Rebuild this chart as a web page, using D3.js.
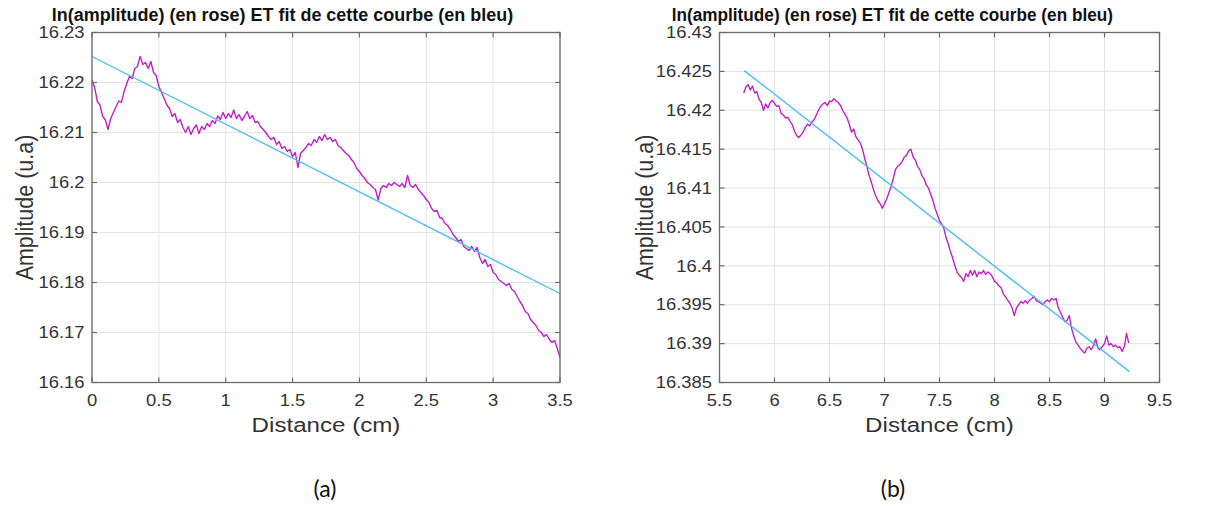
<!DOCTYPE html>
<html><head><meta charset="utf-8">
<script src="https://cdn.jsdelivr.net/npm/d3@7"></script>
<style>
html,body{margin:0;padding:0;background:#fff;}
svg{display:block;}
</style></head>
<body>
<svg id="chart" width="1205" height="506"></svg>
<script>
// ---------------- DATA ----------------
const titleText = "ln(amplitude) (en rose) ET fit de cette courbe (en bleu)";
const xLabel = "Distance (cm)";
const yLabel = "Amplitude (u.a)";
const captions = ["(a)", "(b)"];

// Panel (a)
const xTicksA = [0, 0.5, 1, 1.5, 2, 2.5, 3, 3.5];
const xTickLabelsA = ["0", "0.5", "1", "1.5", "2", "2.5", "3", "3.5"];
const yTicksA = [16.16, 16.17, 16.18, 16.19, 16.2, 16.21, 16.22, 16.23];
const yTickLabelsA = ["16.16", "16.17", "16.18", "16.19", "16.2", "16.21", "16.22", "16.23"];
const xDomainA = [0, 3.5];
const yDomainA = [16.16, 16.23];
const distStartA = 0, distStepA = 0.02;
const lnAmpA = [
16.2205,16.2190,16.2162,16.2155,16.2132,16.2125,16.2106,16.2128,16.2140,16.2152,
16.2163,16.2160,16.2182,16.2198,16.2212,16.2208,16.2228,16.2232,16.2252,16.2236,
16.2240,16.2228,16.2242,16.2220,16.2214,16.2192,16.2180,16.2168,16.2155,16.2148,
16.2132,16.2138,16.2120,16.2126,16.2110,16.2100,16.2112,16.2096,16.2108,16.2115,
16.2098,16.2112,16.2106,16.2118,16.2112,16.2124,16.2118,16.2133,16.2126,16.2140,
16.2128,16.2138,16.2130,16.2145,16.2128,16.2136,16.2124,16.2132,16.2142,16.2128,
16.2134,16.2120,16.2122,16.2112,16.2106,16.2100,16.2092,16.2086,16.2090,16.2076,
16.2082,16.2068,16.2072,16.2062,16.2066,16.2052,16.2060,16.2030,16.2058,16.2064,
16.2070,16.2078,16.2074,16.2086,16.2080,16.2092,16.2084,16.2096,16.2086,16.2090,
16.2082,16.2086,16.2074,16.2070,16.2064,16.2058,16.2054,16.2046,16.2040,16.2028,
16.2022,16.2014,16.2008,16.2000,16.1996,16.1990,16.1986,16.1965,16.1988,16.1994,
16.1990,16.1998,16.1994,16.2000,16.1996,16.1992,16.1998,16.1990,16.2014,16.1994,
16.1990,16.1996,16.1986,16.1980,16.1974,16.1966,16.1960,16.1948,16.1942,16.1944,
16.1930,16.1928,16.1918,16.1914,16.1906,16.1896,16.1890,16.1882,16.1886,16.1872,
16.1868,16.1864,16.1872,16.1862,16.1870,16.1850,16.1838,16.1846,16.1832,16.1836,
16.1820,16.1816,16.1806,16.1802,16.1798,16.1794,16.1798,16.1786,16.1782,16.1772,
16.1762,16.1754,16.1742,16.1738,16.1726,16.1720,16.1714,16.1704,16.1700,16.1692,
16.1696,16.1686,16.1680,16.1684,16.1668,16.1650
];
const fitXA = [0, 3.5];
const fitYA = [16.2252, 16.1778];

// Panel (b)
const xTicksB = [5.5, 6, 6.5, 7, 7.5, 8, 8.5, 9, 9.5];
const xTickLabelsB = ["5.5", "6", "6.5", "7", "7.5", "8", "8.5", "9", "9.5"];
const yTicksB = [16.385, 16.39, 16.395, 16.4, 16.405, 16.41, 16.415, 16.42, 16.425, 16.43];
const yTickLabelsB = ["16.385", "16.39", "16.395", "16.4", "16.405", "16.41", "16.415", "16.42", "16.425", "16.43"];
const xDomainB = [5.5, 9.5];
const yDomainB = [16.385, 16.43];
const distStartB = 5.72, distStepB = 0.02;
const lnAmpB = [
16.4222,16.4230,16.4233,16.4226,16.4231,16.4222,16.4224,16.4214,16.4210,16.4200,
16.4208,16.4203,16.4210,16.4213,16.4209,16.4205,16.4206,16.4196,16.4194,16.4190,
16.4191,16.4186,16.4182,16.4174,16.4168,16.4165,16.4168,16.4172,16.4178,16.4182,
16.4180,16.4185,16.4188,16.4194,16.4200,16.4205,16.4208,16.4210,16.4206,16.4212,
16.4211,16.4215,16.4212,16.4210,16.4206,16.4200,16.4195,16.4190,16.4182,16.4172,
16.4176,16.4166,16.4162,16.4158,16.4150,16.4138,16.4128,16.4116,16.4108,16.4098,
16.4090,16.4084,16.4080,16.4074,16.4080,16.4086,16.4094,16.4102,16.4112,16.4124,
16.4128,16.4130,16.4134,16.4140,16.4142,16.4148,16.4150,16.4140,16.4136,16.4128,
16.4124,16.4116,16.4112,16.4104,16.4100,16.4092,16.4084,16.4074,16.4066,16.4058,
16.4054,16.4048,16.4036,16.4028,16.4018,16.4010,16.4000,16.3992,16.3988,16.3985,
16.3980,16.3990,16.3986,16.3994,16.3988,16.3994,16.3986,16.3992,16.3990,16.3994,
16.3989,16.3992,16.3990,16.3986,16.3980,16.3978,16.3974,16.3972,16.3964,16.3960,
16.3956,16.3952,16.3946,16.3936,16.3946,16.3950,16.3954,16.3952,16.3955,16.3952,
16.3956,16.3958,16.3961,16.3955,16.3954,16.3952,16.3950,16.3954,16.3956,16.3954,
16.3958,16.3956,16.3958,16.3946,16.3940,16.3934,16.3928,16.3930,16.3936,16.3920,
16.3910,16.3902,16.3898,16.3894,16.3890,16.3888,16.3894,16.3896,16.3892,16.3898,
16.3906,16.3894,16.3892,16.3896,16.3900,16.3910,16.3898,16.3900,16.3896,16.3898,
16.3895,16.3896,16.3890,16.3896,16.3913,16.3901
];
const fitXB = [5.725, 9.227];
const fitYB = [16.4251, 16.3864];

// ---------------- DRAWING ----------------
const svg = d3.select("#chart");
const SX = 1.15; // horizontal stretch of the original raster text
const FONT = "'Liberation Sans', Arial, sans-serif";

function stretchedText(g, x, y, txt, size, anchor, opts = {}) {
  const t = g.append("text")
    .attr("transform", `translate(${x},${y}) scale(${opts.sx || SX},1)`)
    .attr("text-anchor", anchor)
    .attr("font-family", FONT)
    .attr("font-size", size)
    .attr("fill", opts.fill || "#262626")
    .text(txt);
  if (opts.weight) t.attr("font-weight", opts.weight);
  if (opts.dy) t.attr("dy", opts.dy);
  return t;
}

function panel(cfg) {
  const g = svg.append("g");
  const x = d3.scaleLinear().domain(cfg.xDomain).range([cfg.left, cfg.right]);
  const y = d3.scaleLinear().domain(cfg.yDomain).range([cfg.bottom, cfg.top]);

  // grid
  g.append("g").selectAll("line.gx").data(cfg.xTicks).join("line")
    .attr("x1", d => x(d)).attr("x2", d => x(d))
    .attr("y1", cfg.top).attr("y2", cfg.bottom)
    .attr("stroke", "#e3e3e3").attr("stroke-width", 1);
  g.append("g").selectAll("line.gy").data(cfg.yTicks).join("line")
    .attr("x1", cfg.left).attr("x2", cfg.right)
    .attr("y1", d => y(d)).attr("y2", d => y(d))
    .attr("stroke", "#e3e3e3").attr("stroke-width", 1);

  // data line
  const pts = cfg.values.map((v, i) => [cfg.start + i * cfg.step, v]);
  const clipId = "clip" + cfg.id;
  g.append("clipPath").attr("id", clipId).append("rect")
    .attr("x", cfg.left).attr("y", cfg.top)
    .attr("width", cfg.right - cfg.left).attr("height", cfg.bottom - cfg.top);
  const line = d3.line().x(d => x(d[0])).y(d => y(d[1]));
  g.append("path").datum(pts)
    .attr("d", line)
    .attr("fill", "none")
    .attr("stroke", "#c21ac8")
    .attr("stroke-width", 1.35)
    .attr("stroke-linejoin", "round")
    .attr("clip-path", `url(#${clipId})`);

  // fit line
  const fitPts = cfg.fitX.map((fx, i) => [fx, cfg.fitY[i]]);
  g.append("path").datum(fitPts)
    .attr("d", line)
    .attr("fill", "none")
    .attr("stroke", "#4dbeee")
    .attr("stroke-width", 1.4);

  // box
  const axisColor = "#6b6b6b";
  g.append("rect")
    .attr("x", cfg.left).attr("y", cfg.top)
    .attr("width", cfg.right - cfg.left).attr("height", cfg.bottom - cfg.top)
    .attr("fill", "none").attr("stroke", axisColor).attr("stroke-width", 1.3);

  // ticks (inward, all sides)
  const tl = 5;
  const tk = g.append("g").attr("stroke", axisColor).attr("stroke-width", 1.2);
  cfg.xTicks.forEach(d => {
    tk.append("line").attr("x1", x(d)).attr("x2", x(d)).attr("y1", cfg.bottom).attr("y2", cfg.bottom - tl);
    tk.append("line").attr("x1", x(d)).attr("x2", x(d)).attr("y1", cfg.top).attr("y2", cfg.top + tl);
  });
  cfg.yTicks.forEach(d => {
    tk.append("line").attr("x1", cfg.left).attr("x2", cfg.left + tl).attr("y1", y(d)).attr("y2", y(d));
    tk.append("line").attr("x1", cfg.right).attr("x2", cfg.right - tl).attr("y1", y(d)).attr("y2", y(d));
  });

  // tick labels
  cfg.xTicks.forEach((d, i) => {
    stretchedText(g, x(d), cfg.bottom + 23, cfg.xTickLabels[i], 16, "middle", {fill: "#333"});
  });
  cfg.yTicks.forEach((d, i) => {
    stretchedText(g, cfg.left - 7.5, y(d), cfg.yTickLabels[i], 16, "end", {fill: "#333", dy: "0.36em"});
  });

  // axis labels
  stretchedText(g, (cfg.left + cfg.right) / 2, 432, xLabel, 21, "middle", {fill: "#333"});
  g.append("text")
    .attr("transform", `translate(${cfg.yLabelX},${(cfg.top + cfg.bottom) / 2}) rotate(-90) scale(1,${SX})`)
    .attr("text-anchor", "middle")
    .attr("font-family", FONT)
    .attr("font-size", 21.5)
    .attr("fill", "#333")
    .text(yLabel);

  // title
  g.append("text")
    .attr("x", cfg.titleX).attr("y", 21)
    .attr("font-family", FONT)
    .attr("font-weight", "bold")
    .attr("font-size", 18)
    .attr("fill", "#111")
    .attr("textLength", cfg.titleW)
    .attr("lengthAdjust", "spacingAndGlyphs")
    .text(titleText);

  // caption
  g.append("text")
    .attr("x", cfg.capX).attr("y", 497)
    .attr("text-anchor", "middle")
    .attr("font-family", "Lato, 'Open Sans', sans-serif")
    .attr("font-size", 23)
    .attr("fill", "#111")
    .text(cfg.caption);
}

panel({
  id: "A", left: 92, right: 560, top: 32.5, bottom: 382.5,
  xDomain: xDomainA, yDomain: yDomainA,
  xTicks: xTicksA, xTickLabels: xTickLabelsA, yTicks: yTicksA, yTickLabels: yTickLabelsA,
  values: lnAmpA, start: distStartA, step: distStepA,
  fitX: fitXA, fitY: fitYA,
  yLabelX: 33, titleX: 51.7, titleW: 461.5, capX: 325, caption: captions[0]
});
panel({
  id: "B", left: 719.5, right: 1159.5, top: 32.5, bottom: 382.5,
  xDomain: xDomainB, yDomain: yDomainB,
  xTicks: xTicksB, xTickLabels: xTickLabelsB, yTicks: yTicksB, yTickLabels: yTickLabelsB,
  values: lnAmpB, start: distStartB, step: distStepB,
  fitX: fitXB, fitY: fitYB,
  yLabelX: 653, titleX: 671.7, titleW: 441.3, capX: 893, caption: captions[1]
});
</script>
</body></html>
